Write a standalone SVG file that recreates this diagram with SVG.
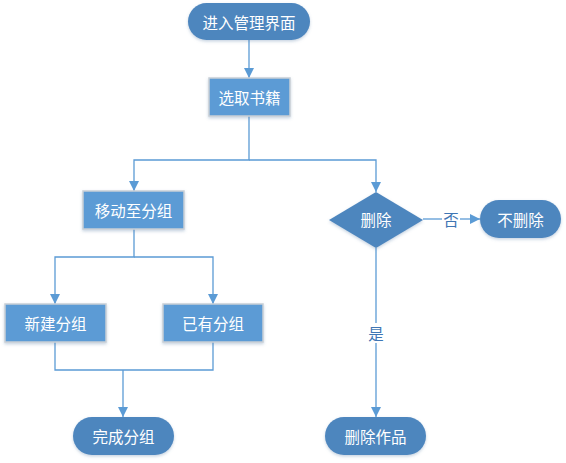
<svg xmlns="http://www.w3.org/2000/svg" width="566" height="463" viewBox="0 0 566 463">
  <defs>
    <marker id="arr" viewBox="0 0 10 10" refX="10" refY="5" markerWidth="10" markerHeight="10" markerUnits="userSpaceOnUse" orient="auto">
      <path d="M0,0 L10,5 L0,10 z" fill="#5B9BD5"/>
    </marker>
    <filter id="sh" x="-20%" y="-20%" width="140%" height="150%">
      <feDropShadow dx="0" dy="1.5" stdDeviation="1.5" flood-color="#5B7FA8" flood-opacity="0.35"/>
    </filter>
  </defs>
  <style>
    .term { fill: #4E86BE; filter: url(#sh); }
    .proc { fill: #5B9BD5; stroke: #C9CFD6; stroke-width: 1.5; filter: url(#sh); }
    .dec { fill: #4E86BE; filter: url(#sh); }
    .t { font-family: "Noto Sans CJK SC", "Liberation Sans", sans-serif; font-size: 15.5px; fill: #FFFFFF; text-anchor: middle; dominant-baseline: central; }
    .lbl { font-family: "Noto Sans CJK SC", "Liberation Sans", sans-serif; font-size: 15.5px; fill: #3F76B4; text-anchor: middle; dominant-baseline: central; }
    .c { fill: none; stroke: #5B9BD5; stroke-width: 1.3; }
  </style>
  <rect width="566" height="463" fill="#FFFFFF"/>

  <g id="connectors">
    <path class="c" d="M249,40 V78" marker-end="url(#arr)"/>
    <path class="c" d="M249,116 V160 H134 V191" marker-end="url(#arr)"/>
    <path class="c" d="M249,160 H376 V192" marker-end="url(#arr)"/>
    <path class="c" d="M134,229 V257 H55 V304" marker-end="url(#arr)"/>
    <path class="c" d="M134,257 H213 V304" marker-end="url(#arr)"/>
    <path class="c" d="M55,342 V370 H213 V342"/>
    <path class="c" d="M123,370 V417" marker-end="url(#arr)"/>
    <path class="c" d="M423,219 H442"/>
    <path class="c" d="M460,219 H480" marker-end="url(#arr)"/>
    <path class="c" d="M376,248 V323"/>
    <path class="c" d="M376,343 V417" marker-end="url(#arr)"/>
    <text class="lbl" x="451" y="219">否</text>
    <text class="lbl" x="376" y="333">是</text>
  </g>

  <g id="start">
    <rect class="term" x="188" y="3" width="122" height="37" rx="18.5"/>
    <text class="t" x="249" y="21.5">进入管理界面</text>
  </g>
  <g id="select">
    <rect class="proc" x="209" y="78" width="81" height="38"/>
    <text class="t" x="249.5" y="97">选取书籍</text>
  </g>
  <g id="move">
    <rect class="proc" x="83" y="191" width="101" height="38"/>
    <text class="t" x="133.5" y="210">移动至分组</text>
  </g>
  <g id="decision">
    <polygon class="dec" points="376,192 423,220 376,248 329,220"/>
    <text class="t" x="376" y="219">删除</text>
  </g>
  <g id="nodelete">
    <rect class="term" x="480" y="200" width="81" height="38" rx="19"/>
    <text class="t" x="520.5" y="219">不删除</text>
  </g>
  <g id="newgroup">
    <rect class="proc" x="5" y="304" width="101" height="38"/>
    <text class="t" x="55.5" y="323">新建分组</text>
  </g>
  <g id="existgroup">
    <rect class="proc" x="163" y="304" width="100" height="38"/>
    <text class="t" x="213" y="323">已有分组</text>
  </g>
  <g id="done">
    <rect class="term" x="73" y="417" width="101" height="38" rx="19"/>
    <text class="t" x="123.5" y="436">完成分组</text>
  </g>
  <g id="delete">
    <rect class="term" x="325" y="417" width="101" height="38" rx="19"/>
    <text class="t" x="375.5" y="436">删除作品</text>
  </g>
</svg>
